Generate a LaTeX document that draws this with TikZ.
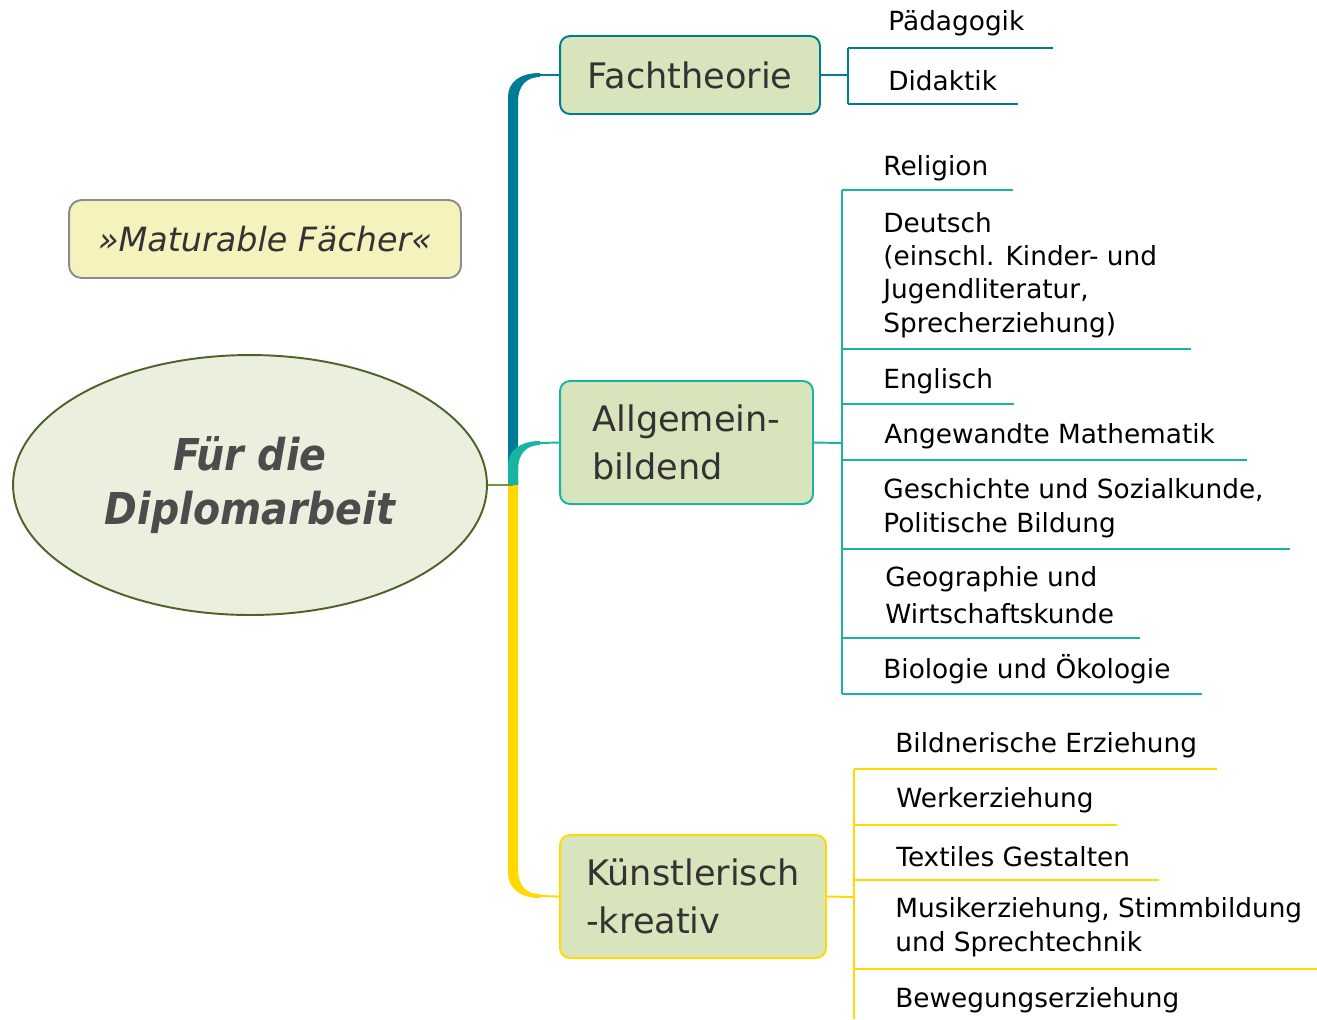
\documentclass[tikz,border=0pt]{standalone}
\usepackage{fontspec}
\setmainfont{DejaVu Sans}
\newfontfamily\rootfont{DejaVu Sans Condensed}
\usepackage{xcolor}
\usetikzlibrary{shapes.geometric,positioning,calc}

\definecolor{ftblue}{HTML}{007B94}
\definecolor{agteal}{HTML}{17B3A3}
\definecolor{kkyellow}{HTML}{FFD900}
\definecolor{boxfill}{HTML}{D8E4BC}
\definecolor{rootfill}{HTML}{EBF0DE}
\definecolor{rootborder}{HTML}{4F6228}
\definecolor{rootline}{HTML}{77933C}
\definecolor{notefill}{HTML}{F5F2BE}
\definecolor{textgray}{HTML}{333333}

\begin{document}
\begin{tikzpicture}[x=0.02cm,y=-0.02cm,
    root/.style={ellipse,draw=rootborder,fill=rootfill,line width=1.1pt,
        minimum width=9.48cm,minimum height=5.2cm,align=center,text=black!70,
        font=\rootfont\bfseries\itshape\fontsize{25}{31}\selectfont},
    note/.style={rectangle,rounded corners=0.25cm,draw=black!45,fill=notefill,line width=1.1pt,
        minimum width=7.84cm,minimum height=1.56cm,text=textgray,
        font=\itshape\fontsize{19}{23}\selectfont},
    group/.style={rectangle,rounded corners=0.2cm,fill=boxfill,line width=1.1pt,
        align=left,text=textgray,font=\fontsize{20}{27.3}\selectfont},
    leaf/.style={anchor=base west,inner sep=0pt,align=left,
        font=\fontsize{15}{18.8}\selectfont},
    thin/.style={line width=1.1pt},
]

    \def\ftbar{848}
    \def\agbar{842}
    \def\kkbar{854}

    %% Background, fixes the margins
    \useasboundingbox (0,0) rectangle (1317,1019);

    %% Center and note
    \node[root] (root) at (250,485) {Für die\\Diplomarbeit};
    \node[note] (note) at (265,239) {»Maturable Fächer«};

    %% Groups
    \node[group,draw=ftblue,minimum width=5.2cm,minimum height=1.56cm] (ft) at (690,75) {Fachtheorie};
    \node[group,draw=agteal,minimum width=5.06cm,minimum height=2.46cm] (ag) at (686.5,442.5) {Allgemein-\\bildend};
    \node[group,draw=kkyellow,minimum width=5.32cm,minimum height=2.46cm] (kk) at (693,896.5) {Künstlerisch\\-kreativ};

    %% Trunk: thick bars that bend into the thin lines
    \coordinate (hub) at (513,485);
    \fill[ftblue] (508,485) -- (508,97) .. controls (508,82) and (520,73) .. (540,73)
        -- (540,77) .. controls (528,77) and (518,84) .. (518,102) -- (518,485) -- cycle;
    \fill[kkyellow] (508,485) -- (508,873) .. controls (508,888) and (520,898) .. (540,898)
        -- (540,894) .. controls (528,894) and (518,888) .. (518,868) -- (518,485) -- cycle;
    \fill[agteal] (508,485) -- (508,465) .. controls (508,451) and (520,441) .. (540,441)
        -- (540,445) .. controls (528,445) and (518,452) .. (518,470) -- (518,485) -- cycle;
    \draw[thin,ftblue] (540,75) -- (ft.west);
    \draw[thin,agteal] (540,443) -- (ag.west);
    \draw[thin,kkyellow] (540,896) -- (kk.west);
    \draw[thin,rootline] (root.east) -- (hub);

    %% Fachtheorie
    \coordinate (ft-bar) at (\ftbar,75);
    \draw[thin,ftblue] (ft.east) -- (ft-bar);
    \foreach \name/\x/\y in {paed/1053/48, dida/1018/104}{
        \coordinate (u-\name) at (\x,\y);
        \draw[thin,ftblue] (ft-bar |- u-\name) -- (u-\name);
    }
    \draw[thin,ftblue] (ft-bar |- u-paed) -- (ft-bar |- u-dida);
    \node[leaf] (paed) at (888,30) {Pädagogik};
    \node[leaf] (dida) at (888,90) {Didaktik};

    %% Allgemeinbildend
    \coordinate (ag-bar) at (\agbar,443);
    \draw[thin,agteal] (ag.east) -- (ag-bar);
    \foreach \name/\x/\y in {rel/1013/190, deu/1191/349, eng/1014/404, mat/1247/460,
                             ges/1290/549, geo/1140/638, bio/1202/694}{
        \coordinate (u-\name) at (\x,\y);
        \draw[thin,agteal] (ag-bar |- u-\name) -- (u-\name);
    }
    \draw[thin,agteal] (ag-bar |- u-rel) -- (ag-bar |- u-bio);
    % multi-line leaves sit on the baseline of their last line
    \node[leaf] (rel) at (883,175) {Religion};
    \node[leaf] (deu) at (883,332) {Deutsch\\(einschl. Kinder- und\\Jugendliteratur,\\Sprecherziehung)};
    \node[leaf] (eng) at (883,388) {Englisch};
    \node[leaf] (mat) at (884,443) {Angewandte Mathematik};
    \node[leaf] (ges) at (883,532) {Geschichte und Sozialkunde,\\Politische Bildung};
    \node[leaf,font=\fontsize{15}{21}\selectfont] (geo) at (885,623) {Geographie und\\Wirtschaftskunde};
    \node[leaf] (bio) at (883,678) {Biologie und Ökologie};

    %% Kuenstlerisch-kreativ
    \coordinate (kk-bar) at (\kkbar,897);
    \coordinate (kk-end) at (\kkbar,1019);
    \draw[thin,kkyellow] (kk.east) -- (kk-bar);
    \foreach \name/\x/\y in {bild/1217/769, werk/1117/825, tex/1159/880, mus/1317/969}{
        \coordinate (u-\name) at (\x,\y);
        \draw[thin,kkyellow] (kk-bar |- u-\name) -- (u-\name);
    }
    \draw[thin,kkyellow] (kk-bar |- u-bild) -- (kk-end);
    \node[leaf] (bild) at (895,752) {Bildnerische Erziehung};
    \node[leaf] (werk) at (896,807) {Werkerziehung};
    \node[leaf] (tex) at (896,866) {Textiles Gestalten};
    \node[leaf] (mus) at (895,951) {Musikerziehung, Stimmbildung\\und Sprechtechnik};
    \node[leaf] (bew) at (895,1007) {Bewegungserziehung};

\end{tikzpicture}
\end{document}
